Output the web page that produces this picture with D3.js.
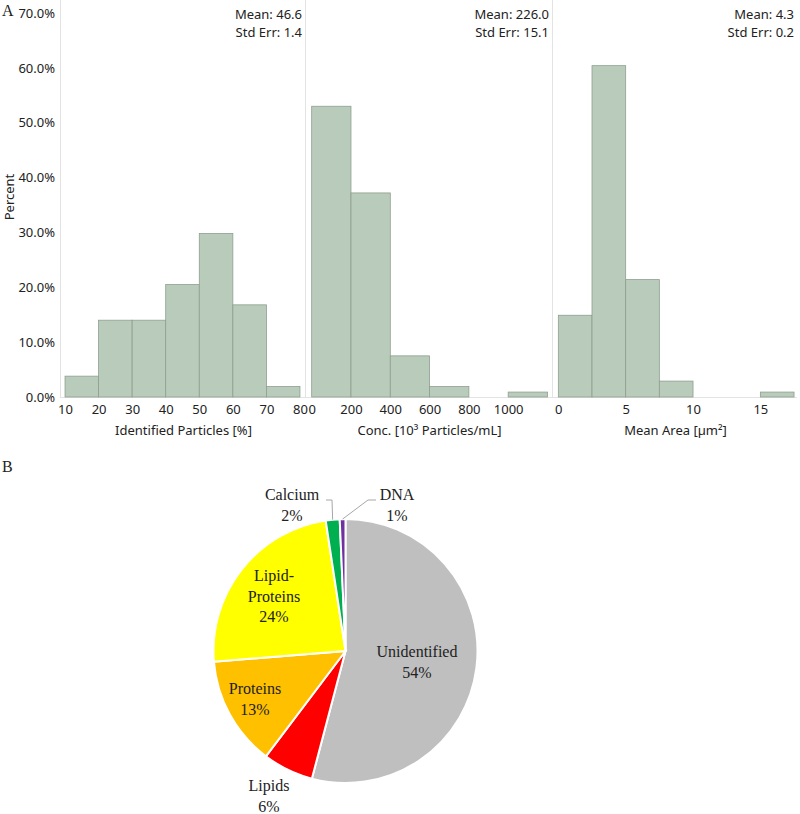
<!DOCTYPE html>
<html>
<head>
<meta charset="utf-8">
<script src="https://cdn.jsdelivr.net/npm/d3@7"></script>
<style>
  body { margin: 0; background: #fff; }
  svg text { fill: #222; }
  .sans { font-family: "Noto Sans", "Open Sans", sans-serif; font-size: 13px; }
  .serif { font-family: "Liberation Serif", "Times New Roman", serif; font-size: 16px; }
</style>
</head>
<body>
<svg id="chart" width="800" height="814"></svg>
<script>
// Histogram data (percent per bin)
const idBins = [10, 20, 30, 40, 50, 60, 70, 80];
const idPct = [3.8, 14.0, 14.0, 20.5, 29.8, 16.8, 1.9];
const concBins = [0, 200, 400, 600, 800, 1000, 1200];
const concPct = [53.0, 37.2, 7.5, 1.9, 0, 0.9];
const areaBins = [0, 2.5, 5, 7.5, 10, 12.5, 15, 17.5];
const areaPct = [14.9, 60.4, 21.4, 2.9, 0, 0, 0.9];

const panelTitles = ["Identified Particles [%]", "Conc. [10³ Particles/mL]", "Mean Area [µm²]"];
const panelMeans = ["Mean: 46.6", "Mean: 226.0", "Mean: 4.3"];
const panelErrs = ["Std Err: 1.4", "Std Err: 15.1", "Std Err: 0.2"];
const panelTicks = [[10, 20, 30, 40, 50, 60, 70, 80], [0, 200, 400, 600, 800, 1000], [0, 5, 10, 15]];
const yTicks = [0, 10, 20, 30, 40, 50, 60, 70];

// Pie data
const pieLabels = ["Unidentified", "Lipids", "Proteins", "Lipid-Proteins", "Calcium", "DNA"];
const pieValues = [54.1, 6.2, 13.4, 23.9, 1.7, 0.7];
const pieColors = ["#bfbfbf", "#ff0000", "#ffc000", "#ffff00", "#00b050", "#7030a0"];

const svg = d3.select("#chart");

// ---- Panel A: histograms ----
const y = d3.scaleLinear().domain([0, 70]).range([397, 13]);
const panels = [
  { bins: idBins, pct: idPct, domain: [8.5, 81.5], range: [60, 305] },
  { bins: concBins, pct: concPct, domain: [-34, 1223], range: [305, 552] },
  { bins: areaBins, pct: areaPct, domain: [-0.47, 17.72], range: [552, 797] }
];

// baseline
svg.append("line")
  .attr("x1", 60).attr("x2", 797).attr("y1", y(0) + 0.5).attr("y2", y(0) + 0.5)
  .attr("stroke", "#e3e3e3");

panels.forEach((p, i) => {
  const x = d3.scaleLinear().domain(p.domain).range(p.range);
  const g = svg.append("g");

  // panel separator
  g.append("line")
    .attr("x1", p.range[0] + 0.5).attr("x2", p.range[0] + 0.5)
    .attr("y1", 0).attr("y2", y(0))
    .attr("stroke", "#e3e3e3");

  const bars = p.pct.map((v, j) => ({ x0: p.bins[j], x1: p.bins[j + 1], v }))
    .filter(d => d.v > 0);
  g.selectAll("rect").data(bars).enter().append("rect")
    .attr("x", d => x(d.x0))
    .attr("y", d => y(d.v))
    .attr("width", d => x(d.x1) - x(d.x0))
    .attr("height", d => y(0) - y(d.v))
    .attr("fill", "#b9cbba")
    .attr("stroke", "#8e9e8f")
    .attr("stroke-width", 0.8);

  const axis = d3.axisBottom(x).tickValues(panelTicks[i]).tickSize(0).tickPadding(8)
    .tickFormat(d => String(d));
  g.append("g")
    .attr("transform", `translate(0,${y(0)})`)
    .attr("class", "sans")
    .call(axis)
    .call(a => a.select(".domain").remove())
    .selectAll("text").attr("font-size", 13).attr("font-family", null).attr("fill", "#222");

  g.append("text").attr("class", "sans")
    .attr("x", (p.range[0] + p.range[1]) / 2 + 1).attr("y", 435)
    .attr("text-anchor", "middle")
    .text(panelTitles[i]);

  g.append("text").attr("class", "sans")
    .attr("x", p.range[1] - 3).attr("y", 19)
    .attr("text-anchor", "end").text(panelMeans[i]);
  g.append("text").attr("class", "sans")
    .attr("x", p.range[1] - 3).attr("y", 37)
    .attr("text-anchor", "end").text(panelErrs[i]);
});

// y axis
svg.append("g")
  .attr("transform", "translate(60,0)")
  .call(d3.axisLeft(y).tickValues(yTicks).tickSize(0).tickPadding(5).tickFormat(d => d.toFixed(1) + "%"))
  .call(a => a.select(".domain").remove())
  .selectAll("text")
  .attr("font-family", "Noto Sans, Open Sans, sans-serif")
  .attr("font-size", 13).attr("fill", "#222");

svg.append("text").attr("class", "sans")
  .attr("transform", "translate(14,197) rotate(-90)")
  .attr("text-anchor", "middle").text("Percent");

svg.append("text").attr("class", "serif")
  .attr("x", 2).attr("y", 16).text("A");
svg.append("text").attr("class", "serif")
  .attr("x", 2).attr("y", 472).text("B");

// ---- Panel B: pie ----
const cx = 345.5, cy = 651, r = 132;
const pieData = pieLabels.map((l, i) => ({ label: l, value: pieValues[i], color: pieColors[i] }));
const arcs = d3.pie().sort(null).value(d => d.value)(pieData);
const arc = d3.arc().innerRadius(0).outerRadius(r);
const pg = svg.append("g").attr("transform", `translate(${cx},${cy})`);

pg.selectAll("path").data(arcs).enter().append("path")
  .attr("d", arc)
  .attr("fill", d => d.data.color)
  .attr("stroke", "#fff")
  .attr("stroke-width", 2);

const pct = d => Math.round(d.value) + "%";
const labelPos = {
  "Unidentified": { x: 417, y: 657, lines: ["Unidentified"] },
  "Lipid-Proteins": { x: 274, y: 581, lines: ["Lipid-", "Proteins"] },
  "Proteins": { x: 255, y: 694, lines: ["Proteins"] },
  "Lipids": { x: 269, y: 791, lines: ["Lipids"] },
  "Calcium": { x: 292, y: 500, lines: ["Calcium"] },
  "DNA": { x: 397, y: 500, lines: ["DNA"] }
};

pieData.forEach(d => {
  const lp = labelPos[d.label];
  const t = svg.append("text").attr("class", "serif")
    .attr("text-anchor", "middle").attr("fill", "#111");
  lp.lines.concat([pct(d)]).forEach((s, k) => {
    t.append("tspan").attr("x", lp.x).attr("y", lp.y + k * 20.5).text(s);
  });
});

// leader lines
const calc = arcs[4], dna = arcs[5];
const calcPt = d3.pointRadial((calc.startAngle + calc.endAngle) / 2, r);
const dnaPt = d3.pointRadial((dna.startAngle + dna.endAngle) / 2, r);
svg.append("polyline")
  .attr("points", `326,500 332,500 ${cx + calcPt[0]},${cy + calcPt[1]}`)
  .attr("fill", "none").attr("stroke", "#a6a6a6").attr("stroke-width", 1);
svg.append("polyline")
  .attr("points", `376,500 368,500 ${cx + dnaPt[0]},${cy + dnaPt[1]}`)
  .attr("fill", "none").attr("stroke", "#a6a6a6").attr("stroke-width", 1);
</script>
</body>
</html>
